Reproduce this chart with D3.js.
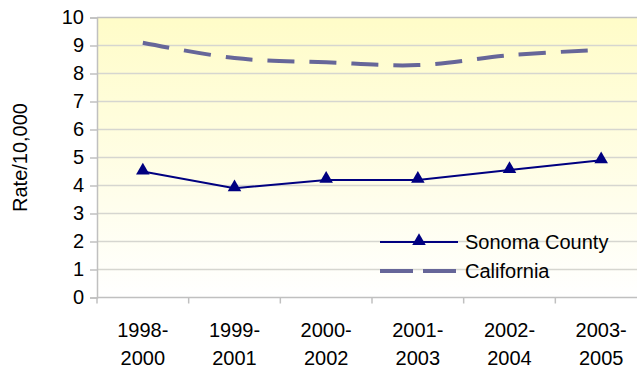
<!DOCTYPE html>
<html>
<head>
<meta charset="utf-8">
<script src="https://cdn.jsdelivr.net/npm/d3@7"></script>
<style>
  html, body { margin: 0; padding: 0; background: #fff; overflow: hidden; }
  svg { display: block; font-family: "Liberation Sans", Arial, sans-serif; }
</style>
</head>
<body>
<svg id="chart" width="637" height="368"></svg>
<script>
// Rate per 10,000 — three-year rolling periods
const periods = [["1998-", "2000"], ["1999-", "2001"], ["2000-", "2002"], ["2001-", "2003"], ["2002-", "2004"], ["2003-", "2005"]];
const periodKeys = periods.map(p => p.join(""));
const sonoma = [4.5, 3.9, 4.2, 4.2, 4.55, 4.9];
const california = [9.1, 8.55, 8.4, 8.3, 8.65, 8.85];
const yTicks = [0, 1, 2, 3, 4, 5, 6, 7, 8, 9, 10];
const seriesNames = ["Sonoma County", "California"];

const FONT = 20;
const svg = d3.select("#chart");
const plot = { left: 97, top: 17.5, right: 647, bottom: 297.5 };

const x = d3.scaleBand().domain(periodKeys).range([plot.left, plot.right]);
const y = d3.scaleLinear().domain([0, 10]).range([plot.bottom, plot.top]);

// Background gradient of the plot area
const defs = svg.append("defs");
const grad = defs.append("linearGradient").attr("id", "bg").attr("x1", 0).attr("y1", 0).attr("x2", 0).attr("y2", 1);
grad.append("stop").attr("offset", "0%").attr("stop-color", "#FFFCC8");
grad.append("stop").attr("offset", "100%").attr("stop-color", "#FFFFFF");

svg.append("rect")
  .attr("x", plot.left).attr("y", plot.top)
  .attr("width", plot.right - plot.left).attr("height", plot.bottom - plot.top)
  .attr("fill", "url(#bg)");

// Horizontal gridlines
svg.append("g").selectAll("line")
  .data(yTicks.filter(t => t > 0 && t < 10))
  .join("line")
  .attr("x1", plot.left).attr("x2", plot.right)
  .attr("y1", d => y(d)).attr("y2", d => y(d))
  .attr("stroke", "#D6D6D0").attr("stroke-width", 1.5);

// Frame: top edge
svg.append("line")
  .attr("x1", plot.left).attr("x2", plot.right)
  .attr("y1", y(10)).attr("y2", y(10))
  .attr("stroke", "#C0C0C0").attr("stroke-width", 1.5);

// Y axis
const yAxis = d3.axisLeft(y).tickValues(yTicks).tickSize(7).tickPadding(6).tickFormat(d3.format("d"));
const gy = svg.append("g").attr("transform", `translate(${plot.left},0)`).call(yAxis);
gy.attr("font-size", null).attr("font-family", null);
gy.select(".domain").attr("stroke", "#C0C0C0").attr("stroke-width", 1.5);
gy.selectAll(".tick line").attr("stroke", "#C0C0C0").attr("stroke-width", 1.5);
gy.selectAll(".tick text").style("font-size", FONT + "px").attr("fill", "#000");

// X axis: ticks at category boundaries
const bounds = periodKeys.map(k => x(k)).concat([x(periodKeys[periodKeys.length - 1]) + x.bandwidth()]);
svg.append("line")
  .attr("x1", plot.left).attr("x2", plot.right)
  .attr("y1", plot.bottom).attr("y2", plot.bottom)
  .attr("stroke", "#C0C0C0").attr("stroke-width", 1.5);
svg.append("g").selectAll("line").data(bounds).join("line")
  .attr("x1", d => d).attr("x2", d => d)
  .attr("y1", plot.bottom).attr("y2", plot.bottom + 6)
  .attr("stroke", "#C0C0C0").attr("stroke-width", 1.5);

const cx = i => x(periodKeys[i]) + x.bandwidth() / 2;

const xl = svg.append("g").selectAll("text").data(periods).join("text")
  .attr("x", (d, i) => cx(i))
  .attr("y", 336.5)
  .attr("text-anchor", "middle")
  .style("font-size", FONT + "px")
  .attr("fill", "#000");
xl.append("tspan").attr("x", (d, i) => cx(i)).text(d => d[0]);
xl.append("tspan").attr("x", (d, i) => cx(i)).attr("dy", 28.5).text(d => d[1]);

// Y axis title
svg.append("text")
  .attr("transform", `translate(27,${(plot.top + plot.bottom) / 2}) rotate(-90)`)
  .attr("text-anchor", "middle")
  .style("font-size", FONT + "px")
  .attr("fill", "#000")
  .text("Rate/10,000");

// California: dashed smoothed line
svg.append("path")
  .datum(california)
  .attr("d", d3.line().x((d, i) => cx(i)).y(d => y(d)).curve(d3.curveCatmullRom.alpha(0.5)))
  .attr("fill", "none")
  .attr("stroke", "#666699")
  .attr("stroke-width", 4)
  .attr("stroke-dasharray", "27,15");

// Sonoma County: solid line with triangle markers
svg.append("path")
  .datum(sonoma)
  .attr("d", d3.line().x((d, i) => cx(i)).y(d => y(d)))
  .attr("fill", "none")
  .attr("stroke", "#000080")
  .attr("stroke-width", 2);

const tri = d3.symbol().type(d3.symbolTriangle).size(80);
svg.append("g").selectAll("path").data(sonoma).join("path")
  .attr("d", tri)
  .attr("transform", (d, i) => `translate(${cx(i)},${y(d) - 1})`)
  .attr("fill", "#000080");

// Legend
const lg = svg.append("g");
lg.append("line").attr("x1", 380).attr("x2", 458).attr("y1", 242).attr("y2", 242)
  .attr("stroke", "#000080").attr("stroke-width", 2);
lg.append("path").attr("d", tri).attr("transform", "translate(419,241)").attr("fill", "#000080");
lg.append("text").attr("x", 465).attr("y", 249).style("font-size", FONT + "px").attr("fill", "#000").text(seriesNames[0]);
lg.append("line").attr("x1", 380).attr("x2", 456).attr("y1", 271).attr("y2", 271)
  .attr("stroke", "#666699").attr("stroke-width", 4).attr("stroke-dasharray", "33,10");
lg.append("text").attr("x", 465).attr("y", 278).style("font-size", FONT + "px").attr("fill", "#000").text(seriesNames[1]);
</script>
</body>
</html>
